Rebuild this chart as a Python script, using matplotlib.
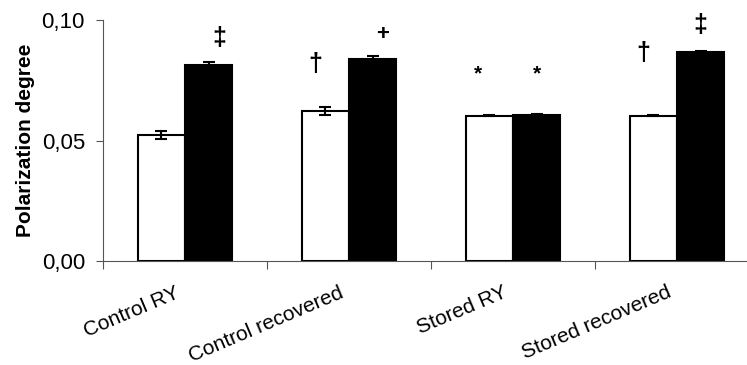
import matplotlib.pyplot as plt
from matplotlib.transforms import ScaledTranslation

plt.rcParams['font.family'] = ['Liberation Sans', 'DejaVu Sans']

categories = ['Control RY', 'Control recovered', 'Stored RY', 'Stored recovered']
white_vals = [0.0523, 0.0622, 0.0603, 0.0603]
white_err = [0.0018, 0.0018, 0.0003, 0.0003]
black_vals = [0.0813, 0.0838, 0.0606, 0.0866]
black_err = [0.0012, 0.0012, 0.0003, 0.0005]
yticks = [0.0, 0.05, 0.10]
ytick_labels = ['0,00', '0,05', '0,10']

# significance marks: (category, bar 0=white 1=black, symbol, y position, x shift, size)
marks = [
    (0, 1, '\u2021', 0.0925, 0.064, 18),
    (1, 0, '\u2020', 0.0817, -0.06, 18),
    (1, 1, '+', 0.0938, 0.064, 16),
    (2, 0, '*', 0.0775, -0.07, 15),
    (2, 1, '*', 0.0775, 0.0, 15),
    (3, 0, '\u2020', 0.0863, -0.06, 18),
    (3, 1, '\u2021', 0.0980, 0.0, 18),
]


def main():
    fig = plt.figure(figsize=(7.47, 3.65), dpi=100)
    ax = fig.add_axes([103 / 747, 1 - 261 / 365, 656 / 747, 241 / 365])

    width = 0.287
    x = list(range(len(categories)))
    xw = [i - width / 2 for i in x]
    xb = [i + width / 2 for i in x]

    ekw = dict(elinewidth=1.5, capthick=1.5, ecolor='black')
    ax.bar(xw, white_vals, width, color='white', edgecolor='black', linewidth=1.5,
           yerr=white_err, capsize=4, error_kw=ekw, zorder=2)
    ax.bar(xb, black_vals, width, color='black', edgecolor='black', linewidth=1.5,
           yerr=black_err, capsize=4, error_kw=ekw, zorder=2)

    for cat, side, sym, y, dx, fs in marks:
        bx = xb[cat] if side else xw[cat]
        ax.text(bx + dx, y, sym, ha='center', va='center', fontsize=fs,
                fontweight='bold')

    ax.set_xlim(-0.5, len(categories) - 0.5)
    ax.set_ylim(0, 0.10)
    ax.set_yticks(yticks)
    ax.set_yticklabels(ytick_labels, fontsize=16)
    ax.tick_params(axis='y', length=5, width=0.8, color='#555555', pad=8)

    ax.set_xticks([i - 0.5 for i in range(len(categories) + 1)])
    ax.set_xticklabels([])
    ax.tick_params(axis='x', which='major', length=6, width=0.8, color='#555555')

    # category labels, rotated, anchored at their top-right corner
    trans = ax.get_xaxis_transform() + ScaledTranslation(-10 / 100, -22 / 100,
                                                         fig.dpi_scale_trans)
    for i, name in zip(x, categories):
        ax.text(i, 0, name, transform=trans, rotation=23, ha='right', va='top',
                rotation_mode='anchor', fontsize=15)

    ax.set_ylabel('Polarization degree', fontsize=15, fontweight='bold', labelpad=5)

    for s in ['top', 'right']:
        ax.spines[s].set_visible(False)
    for s in ['left', 'bottom']:
        ax.spines[s].set_color('#555555')
        ax.spines[s].set_linewidth(0.8)

    fig.savefig('out.png', dpi=100)


if __name__ == '__main__':
    main()
